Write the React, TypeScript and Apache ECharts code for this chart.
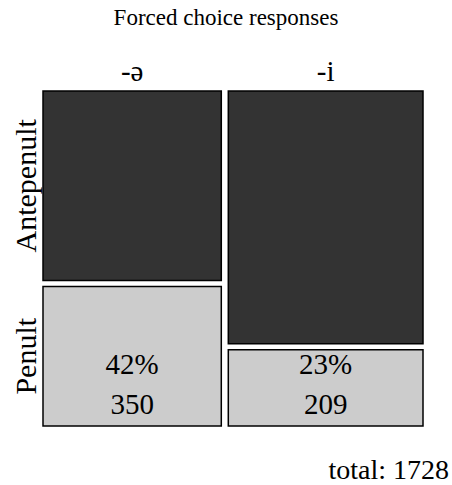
import React, { useEffect, useRef } from "react";
import * as echarts from "echarts";

const columnLabels = ["-ə", "-i"];
const rowLabels = ["Antepenult", "Penult"];
const antepenultCounts = [476, 693];
const penultCounts = [350, 209];
const rowColors = ["#333333", "#cccccc"];
const titleText = "Forced choice responses";

const FONT = "'Liberation Serif', 'Times New Roman', serif";

export default function App() {
  const ref = useRef<HTMLDivElement>(null);
  useEffect(() => {
    if (!ref.current) return;
    const chart = echarts.init(ref.current, null, { renderer: "svg" });
    const colTotals = columnLabels.map((_, i) => antepenultCounts[i] + penultCounts[i]);
    const total = colTotals.reduce((a, b) => a + b, 0);
    const counts = [antepenultCounts, penultCounts];
    // data: [col, row, count, colStart, colCount, rowStartFrac, rowFrac]
    const data: number[][] = [];
    let cum = 0;
    columnLabels.forEach((_, c) => {
      let rs = 0;
      rowLabels.forEach((_, r) => {
        const frac = counts[r][c] / colTotals[c];
        data.push([c, r, counts[r][c], cum, colTotals[c], rs, frac]);
        rs += frac;
      });
      cum += colTotals[c];
    });
    const gapX = 7;
    const gapY = 6;
    const nCols = columnLabels.length;
    const nRows = rowLabels.length;

    chart.setOption({
      animation: false,
      title: {
        text: titleText,
        left: "center",
        top: 1,
        textStyle: { fontFamily: FONT, fontWeight: "normal", fontSize: 23, color: "#000" },
      },
      grid: { left: 43, right: 29, top: 91, bottom: 59 },
      xAxis: { type: "value", min: 0, max: total, show: false },
      yAxis: { type: "value", min: 0, max: 1, inverse: true, show: false },
      series: [
        {
          type: "custom",
          data,
          renderItem: (params: any, api: any) => {
            const c = api.value(0);
            const r = api.value(1);
            const count = api.value(2);
            const colStart = api.value(3);
            const colCount = api.value(4);
            const rowStart = api.value(5);
            const rowFrac = api.value(6);
            const p0 = api.coord([0, 0]);
            const p1 = api.coord([total, 1]);
            const W = p1[0] - p0[0];
            const H = p1[1] - p0[1];
            const x0 = p0[0] + ((W - gapX * (nCols - 1)) * colStart) / total + c * gapX;
            const w = ((W - gapX * (nCols - 1)) * colCount) / total;
            const y0 = p0[1] + (H - gapY * (nRows - 1)) * rowStart + r * gapY;
            const h = (H - gapY * (nRows - 1)) * rowFrac;
            const children: any[] = [
              {
                type: "rect",
                shape: { x: x0, y: y0, width: w, height: h },
                style: { fill: rowColors[r], stroke: "#000", lineWidth: 1.5 },
              },
            ];
            const fs = 29;
            if (r === nRows - 1) {
              const pct = Math.round((count / colCount) * 100) + "%";
              children.push({
                type: "text",
                style: {
                  text: pct, x: x0 + w / 2, y: y0 + h - 62, align: "center", verticalAlign: "middle",
                  fontFamily: FONT, fontSize: fs, fill: "#000",
                },
              });
              children.push({
                type: "text",
                style: {
                  text: String(count), x: x0 + w / 2, y: y0 + h - 22, align: "center", verticalAlign: "middle",
                  fontFamily: FONT, fontSize: fs, fill: "#000",
                },
              });
            }
            if (r === 0) {
              children.push({
                type: "text",
                style: {
                  text: columnLabels[c], x: x0 + w / 2, y: y0 - 6, align: "center", verticalAlign: "bottom",
                  fontFamily: FONT, fontSize: fs, fill: "#000",
                },
              });
            }
            if (c === 0) {
              children.push({
                type: "text",
                x: x0 - 18,
                y: y0 + h / 2,
                rotation: Math.PI / 2,
                style: {
                  text: rowLabels[r], x: 0, y: 0, align: "center", verticalAlign: "middle",
                  fontFamily: FONT, fontSize: 30, fill: "#000",
                },
              });
            }
            return { type: "group", children };
          },
        },
      ],
      graphic: [
        {
          type: "text",
          right: 3,
          top: 455,
          style: { text: "total: " + total, fontFamily: FONT, fontSize: 28, fill: "#000" },
        },
      ],
    });
    return () => chart.dispose();
  }, []);
  return <div ref={ref} style={{ width: 452, height: 485, position: "absolute", left: 0, top: 0 }} />;
}
